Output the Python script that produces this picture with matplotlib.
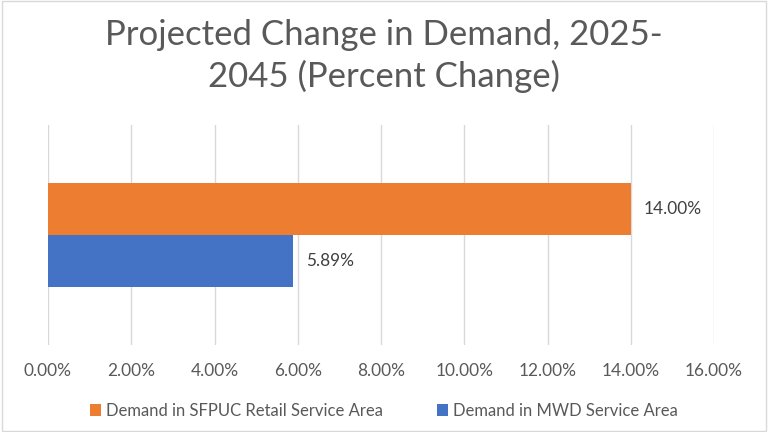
import matplotlib.pyplot as plt
from matplotlib.patches import Rectangle
import numpy as np

series = ['Demand in SFPUC Retail Service Area', 'Demand in MWD Service Area']
values = [14.00, 5.89]
colors = ['#ED7D31', '#4472C4']
xticks = [0, 2, 4, 6, 8, 10, 12, 14, 16]

plt.rcParams['font.family'] = ['Lato', 'DejaVu Sans']

fig = plt.figure(figsize=(7.68, 4.32), dpi=100)
ax = fig.add_axes([48 / 768, 1 - 345 / 432, (714 - 48) / 768, (345 - 125) / 432])

# one category, two grouped bars (first series on top)
h = 0.2386
offsets = [h / 2, -h / 2]
for name, v, c, off in zip(series, values, colors, offsets):
    ax.barh(off, v, height=h, color=c, label=name, zorder=3)
    ax.text(v + 0.3, off, f'{v:.2f}%', va='center', ha='left',
            fontsize=12.4, color='#404040')

ax.set_xlim(0, 16)
ax.set_ylim(-0.5, 0.5)
ax.set_xticks(xticks)
ax.set_xticklabels([f'{t:.2f}%' for t in xticks], fontsize=12.4, color='#595959')
ax.set_yticks([])
ax.tick_params(axis='x', length=0, pad=13)
ax.grid(axis='x', color='#D9D9D9', linewidth=1, zorder=0)
for s in ax.spines.values():
    s.set_visible(False)

fig.text(0.5, 1 - 56 / 432, 'Projected Change in Demand, 2025-\n2045 (Percent Change)',
         ha='center', va='center', fontsize=25, color='#595959', linespacing=1.36)

handles, labels = ax.get_legend_handles_labels()
fig.legend(handles, labels, loc='center', bbox_to_anchor=(0.5, 1 - 411 / 432),
           ncol=2, frameon=False, fontsize=12, labelcolor='#595959',
           handlelength=0.7, handleheight=0.7, handletextpad=0.3, columnspacing=3.2)

fig.patches.append(Rectangle((0.003, 0.003), 0.994, 0.994, transform=fig.transFigure,
                             fill=False, edgecolor='#D9D9D9', linewidth=1))

plt.savefig('out.png', dpi=100)
